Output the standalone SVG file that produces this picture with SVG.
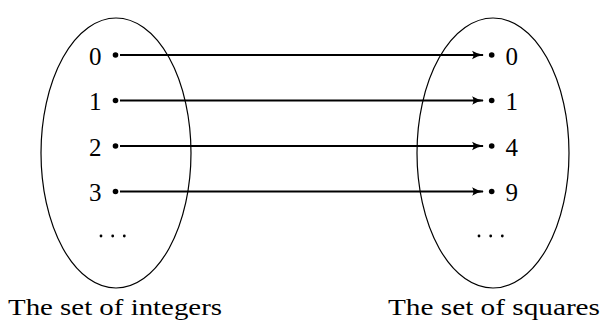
<svg xmlns="http://www.w3.org/2000/svg" width="601" height="321" viewBox="0 0 601 321">
  <defs>
    <marker id="tip" viewBox="0 0 12 10" refX="11" refY="5" markerWidth="12" markerHeight="10" markerUnits="userSpaceOnUse" orient="auto">
      <path d="M0,0.8 Q5,4 12,5 Q5,6 0,9.2 Q3,5 0,0.8 Z" fill="#000"/>
    </marker>
  </defs>

  <!-- domain: integers -->
  <g id="integers" font-family="'Liberation Serif', 'DejaVu Serif', serif" font-size="25" fill="#000">
    <ellipse cx="116" cy="153" rx="75" ry="135" fill="none" stroke="#000" stroke-width="1.2"/>
    <circle cx="115.5" cy="55" r="2.8"/>
    <circle cx="115.5" cy="100.5" r="2.8"/>
    <circle cx="115.5" cy="146" r="2.8"/>
    <circle cx="115.5" cy="191.5" r="2.8"/>
    <text x="101.5" y="64.5" text-anchor="end">0</text>
    <text x="101.5" y="110" text-anchor="end">1</text>
    <text x="101.5" y="155.5" text-anchor="end">2</text>
    <text x="101.5" y="201" text-anchor="end">3</text>
    <circle cx="101" cy="236" r="1.4"/>
    <circle cx="112.7" cy="236" r="1.4"/>
    <circle cx="124.3" cy="236" r="1.4"/>
    <text x="8" y="315" font-size="24" textLength="214" lengthAdjust="spacingAndGlyphs">The set of integers</text>
  </g>

  <!-- codomain: squares -->
  <g id="squares" font-family="'Liberation Serif', 'DejaVu Serif', serif" font-size="25" fill="#000">
    <ellipse cx="493" cy="153" rx="76" ry="135" fill="none" stroke="#000" stroke-width="1.2"/>
    <circle cx="491.7" cy="55" r="2.8"/>
    <circle cx="491.7" cy="100.5" r="2.8"/>
    <circle cx="491.7" cy="146" r="2.8"/>
    <circle cx="491.7" cy="191.5" r="2.8"/>
    <text x="505.5" y="64.5">0</text>
    <text x="505.5" y="110">1</text>
    <text x="505.5" y="155.5">4</text>
    <text x="505.5" y="201">9</text>
    <circle cx="479" cy="236" r="1.4"/>
    <circle cx="490.7" cy="236" r="1.4"/>
    <circle cx="502.3" cy="236" r="1.4"/>
    <text x="388" y="315" font-size="24" textLength="212" lengthAdjust="spacingAndGlyphs">The set of squares</text>
  </g>

  <!-- the squaring map n -> n^2 -->
  <g id="connectors" stroke="#000" stroke-width="1.8" fill="none" marker-end="url(#tip)">
    <line x1="120" y1="55" x2="483" y2="55"/>
    <line x1="120" y1="100.5" x2="483" y2="100.5"/>
    <line x1="120" y1="146" x2="483" y2="146"/>
    <line x1="120" y1="191.5" x2="483" y2="191.5"/>
  </g>
</svg>
